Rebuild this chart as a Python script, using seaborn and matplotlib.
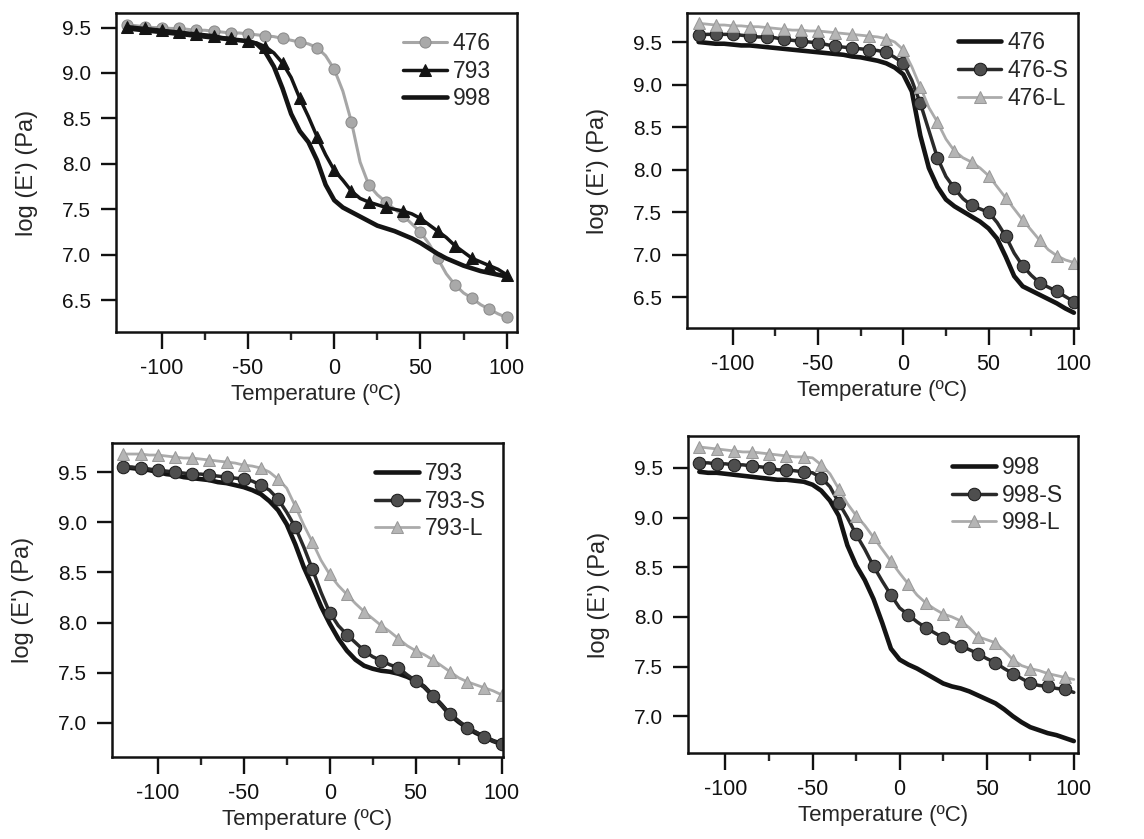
import matplotlib
matplotlib.use("Agg")
import matplotlib.pyplot as plt
import seaborn as sns

sns.set_theme(style="ticks")
plt.rcParams["font.family"] = ["Liberation Sans", "DejaVu Sans"]
plt.rcParams["axes.unicode_minus"] = False

# temperature grid (ºC), 5 degree steps
temps = list(range(-120, 105, 5))
temps_998 = temps[1:]

# panel a: 476 / 793 / 998
a_476 = [9.53, 9.52, 9.51, 9.50, 9.50, 9.49, 9.49, 9.48, 9.47, 9.47, 9.46, 9.45, 9.44, 9.44, 9.43,
         9.42, 9.41, 9.40, 9.38, 9.36, 9.34, 9.32, 9.28, 9.19, 9.04,
         8.80, 8.46, 8.02, 7.77, 7.66, 7.58, 7.50, 7.43, 7.34, 7.25, 7.12, 6.96, 6.79, 6.67, 6.58,
         6.52, 6.45, 6.40, 6.35, 6.31]
a_793 = [9.51, 9.50, 9.49, 9.48, 9.47, 9.46, 9.45, 9.44, 9.43, 9.42, 9.41, 9.39, 9.38, 9.36, 9.35,
         9.33, 9.29, 9.22, 9.11, 8.95, 8.72, 8.52, 8.30, 8.10, 7.93,
         7.82, 7.70, 7.62, 7.58, 7.55, 7.52, 7.50, 7.48, 7.45, 7.40, 7.33, 7.26, 7.19, 7.10, 7.03,
         6.96, 6.92, 6.88, 6.84, 6.78]
a_998 = [9.49, 9.48, 9.47, 9.46, 9.45, 9.44, 9.43, 9.42, 9.41, 9.40, 9.39, 9.38, 9.37, 9.36, 9.35,
         9.32, 9.23, 9.07, 8.83, 8.55, 8.36, 8.24, 8.04, 7.77, 7.60,
         7.52, 7.47, 7.42, 7.37, 7.32, 7.29, 7.26, 7.22, 7.18, 7.13, 7.07, 7.01, 6.96, 6.92, 6.88,
         6.85, 6.82, 6.80, 6.78, 6.76]

# panel b: 476 family
b_476 = [9.50, 9.49, 9.48, 9.48, 9.47, 9.46, 9.46, 9.45, 9.44, 9.43, 9.42, 9.41, 9.40, 9.39, 9.38,
         9.37, 9.36, 9.35, 9.33, 9.32, 9.30, 9.28, 9.25, 9.20, 9.12,
         8.92, 8.40, 8.02, 7.80, 7.65, 7.57, 7.51, 7.45, 7.39, 7.31, 7.19, 6.98, 6.75, 6.63, 6.58,
         6.53, 6.48, 6.43, 6.37, 6.32]
b_476s = [9.58, 9.59, 9.59, 9.59, 9.59, 9.58, 9.57, 9.56, 9.56, 9.55, 9.53, 9.52, 9.51, 9.50, 9.49,
          9.47, 9.45, 9.44, 9.43, 9.42, 9.41, 9.40, 9.38, 9.32, 9.25,
          9.05, 8.78, 8.46, 8.14, 7.92, 7.78, 7.66, 7.58, 7.54, 7.50, 7.38, 7.22, 7.02, 6.87, 6.76,
          6.67, 6.62, 6.57, 6.51, 6.45]
b_476l = [9.72, 9.71, 9.70, 9.70, 9.69, 9.69, 9.68, 9.68, 9.67, 9.66, 9.65, 9.64, 9.64, 9.63, 9.63,
          9.62, 9.61, 9.60, 9.59, 9.58, 9.57, 9.56, 9.54, 9.50, 9.41,
          9.21, 8.97, 8.73, 8.56, 8.36, 8.22, 8.14, 8.09, 8.02, 7.93, 7.80, 7.67, 7.54, 7.41, 7.29,
          7.17, 7.06, 6.99, 6.94, 6.91]

# panel c: 793 family
c_793 = [9.55, 9.54, 9.53, 9.52, 9.50, 9.48, 9.47, 9.45, 9.44, 9.43, 9.42, 9.40, 9.39, 9.37, 9.35,
         9.32, 9.28, 9.21, 9.12, 8.98, 8.78, 8.55, 8.36, 8.16, 7.99,
         7.84, 7.72, 7.63, 7.57, 7.54, 7.52, 7.51, 7.49, 7.46, 7.42, 7.36, 7.27, 7.18, 7.08, 7.01,
         6.95, 6.90, 6.86, 6.82, 6.79]
c_793s = [9.55, 9.55, 9.54, 9.53, 9.52, 9.51, 9.50, 9.49, 9.48, 9.48, 9.47, 9.46, 9.45, 9.44, 9.43,
          9.41, 9.37, 9.32, 9.23, 9.10, 8.95, 8.75, 8.53, 8.30, 8.10,
          7.97, 7.88, 7.80, 7.72, 7.66, 7.62, 7.58, 7.55, 7.48, 7.42, 7.36, 7.27, 7.18, 7.09, 7.02,
          6.95, 6.91, 6.86, 6.82, 6.79]
c_793l = [9.68, 9.68, 9.68, 9.67, 9.67, 9.66, 9.65, 9.64, 9.64, 9.63, 9.62, 9.61, 9.60, 9.59, 9.57,
          9.56, 9.54, 9.50, 9.43, 9.34, 9.16, 8.97, 8.80, 8.62, 8.48,
          8.37, 8.28, 8.19, 8.11, 8.04, 7.97, 7.91, 7.84, 7.77, 7.72, 7.68, 7.63, 7.57, 7.51, 7.45,
          7.41, 7.38, 7.35, 7.32, 7.28]

# panel d: 998 family (starts at -115)
d_998 = [9.46, 9.45, 9.45, 9.44, 9.43, 9.42, 9.41, 9.40, 9.39, 9.38, 9.38, 9.37, 9.36, 9.33,
         9.27, 9.17, 9.02, 8.72, 8.52, 8.37, 8.18, 7.94, 7.68, 7.57,
         7.52, 7.48, 7.43, 7.38, 7.33, 7.30, 7.28, 7.25, 7.21, 7.17, 7.13, 7.07, 7.00, 6.94, 6.89,
         6.86, 6.83, 6.81, 6.78, 6.75]
d_998s = [9.55, 9.55, 9.54, 9.54, 9.53, 9.53, 9.52, 9.51, 9.50, 9.48, 9.48, 9.47, 9.46, 9.45,
          9.40, 9.31, 9.15, 9.00, 8.83, 8.68, 8.51, 8.36, 8.22, 8.09,
          8.02, 7.95, 7.89, 7.84, 7.79, 7.75, 7.71, 7.67, 7.63, 7.58, 7.54, 7.48, 7.43, 7.38, 7.33,
          7.31, 7.30, 7.28, 7.27, 7.24]
d_998l = [9.71, 9.70, 9.69, 9.68, 9.67, 9.66, 9.66, 9.65, 9.64, 9.63, 9.62, 9.61, 9.61, 9.60,
          9.53, 9.44, 9.29, 9.14, 9.02, 8.92, 8.80, 8.68, 8.56, 8.44,
          8.33, 8.22, 8.14, 8.08, 8.03, 8.00, 7.96, 7.89, 7.80, 7.77, 7.74, 7.66, 7.57, 7.51, 7.48,
          7.46, 7.43, 7.41, 7.39, 7.37]

# line styles
plain = dict(color="#141414", lw=3.3)
black_tri = dict(color="#141414", lw=2.5, marker="^", ms=9, mfc="#141414", mec="#141414", markevery=2)
grey_circ = dict(color="#a6a6a6", lw=2.2, marker="o", ms=8, mfc="#a9a9a9", mec="#8c8c8c", markevery=2)
dark_circ = dict(color="#2a2a2a", lw=2.5, marker="o", ms=9, mfc="#4e4e4e", mec="#1c1c1c", markevery=2)
light_tri = dict(color="#ababab", lw=2.0, marker="^", ms=9, mfc="#b5b5b5", mec="#999999", markevery=2)

panels = [
    # rect, xlim, ylim, yticks, legend anchor, series
    ([0.1014, 0.6043, 0.3505, 0.3802], (-126.6, 106), (6.15, 9.66),
     [6.5, 7.0, 7.5, 8.0, 8.5, 9.0, 9.5], (0.716, 0.94),
     [(temps, a_476, "476", grey_circ), (temps, a_793, "793", black_tri), (temps, a_998, "998", plain)]),
    ([0.6005, 0.6090, 0.3418, 0.3754], (-126.8, 102.4), (6.14, 9.84),
     [6.5, 7.0, 7.5, 8.0, 8.5, 9.0, 9.5], (0.693, 0.942),
     [(temps, b_476, "476", plain), (temps, b_476s, "476-S", dark_circ), (temps, b_476l, "476-L", light_tri)]),
    ([0.0979, 0.0977, 0.3418, 0.3743], (-126.6, 100.8), (6.66, 9.79),
     [7.0, 7.5, 8.0, 8.5, 9.0, 9.5], (0.673, 0.939),
     [(temps, c_793, "793", plain), (temps, c_793s, "793-S", dark_circ), (temps, c_793l, "793-L", light_tri)]),
    ([0.6014, 0.1025, 0.3409, 0.3778], (-121.5, 102.4), (6.63, 9.82),
     [7.0, 7.5, 8.0, 8.5, 9.0, 9.5], (0.677, 0.937),
     [(temps_998, d_998, "998", plain), (temps_998, d_998s, "998-S", dark_circ), (temps_998, d_998l, "998-L", light_tri)]),
]

fig = plt.figure(figsize=(11.44, 8.39), dpi=100)

for rect, xlim, ylim, yticks, anchor, series in panels:
    ax = fig.add_axes(rect)
    for x, y, name, style in series:
        sns.lineplot(x=x, y=y, ax=ax, label=name, errorbar=None, **style)

    ax.set_xlim(*xlim)
    ax.set_ylim(*ylim)
    ax.set_xticks([-100, -50, 0, 50, 100])
    ax.set_xticks([-75, -25, 25, 75], minor=True)
    ax.set_yticks(yticks)
    ax.set_yticklabels([f"{t:.1f}" for t in yticks])
    ax.tick_params(axis="x", which="major", direction="out", length=12, width=1.7, pad=7,
                   labelsize=15.5, colors="#111111")
    ax.tick_params(axis="x", which="minor", direction="out", length=6, width=1.7)
    ax.tick_params(axis="y", which="major", direction="out", length=11, width=1.7, pad=7,
                   labelsize=15, colors="#111111")
    for sp in ax.spines.values():
        sp.set_linewidth(1.8)
        sp.set_color("#111111")

    ax.set_xlabel("Temperature (ºC)", fontsize=16, labelpad=3)
    ax.set_ylabel("log (E') (Pa)", fontsize=17, labelpad=17)

    ax.legend(loc="upper left", bbox_to_anchor=anchor, frameon=False, fontsize=16.5,
              handlelength=1.9, handletextpad=0.26, labelspacing=0.2, borderpad=0,
              borderaxespad=0, numpoints=1)

fig.savefig("out.png", dpi=100)
